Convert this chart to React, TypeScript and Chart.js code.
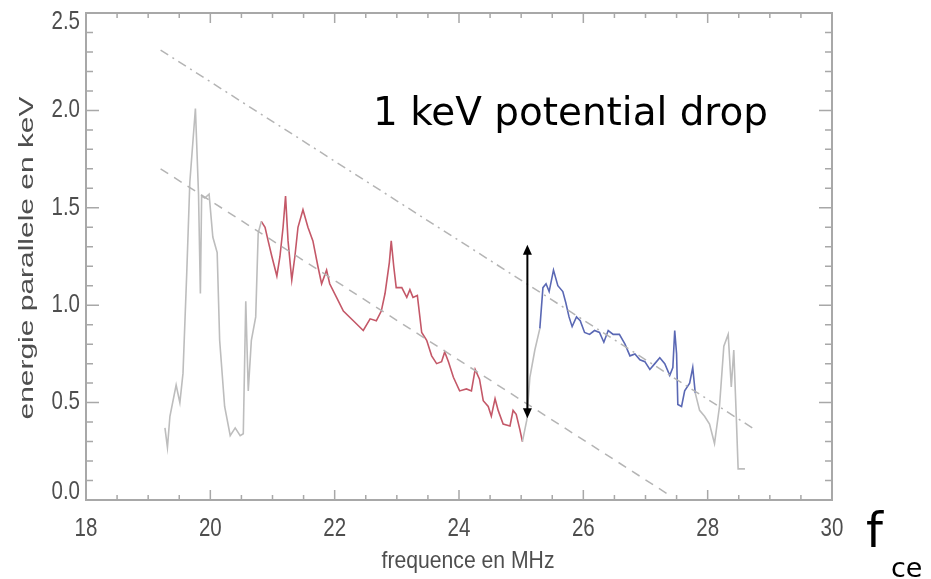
import React, { useEffect, useRef } from 'react';
import { Chart, registerables } from 'chart.js';

Chart.register(...registerables);

// ---- data (frequency in MHz, parallel energy in keV) ----
const grayAFreq = [19.27, 19.31, 19.35, 19.45, 19.51, 19.56, 19.62, 19.67, 19.76, 19.81, 19.84, 19.86, 19.91, 19.98, 20.04, 20.11, 20.15, 20.23, 20.32, 20.40, 20.48, 20.53, 20.57, 20.61, 20.66, 20.73, 20.77, 20.82];
const grayAEnergy = [0.37, 0.27, 0.43, 0.59, 0.50, 0.65, 1.16, 1.63, 2.01, 1.57, 1.06, 1.56, 1.55, 1.57, 1.35, 1.27, 0.82, 0.48, 0.33, 0.37, 0.33, 0.34, 1.02, 0.56, 0.82, 0.94, 1.37, 1.43];

const redFreq = [20.82, 20.88, 20.93, 20.99, 21.07, 21.12, 21.17, 21.21, 21.25, 21.31, 21.36, 21.41, 21.49, 21.57, 21.65, 21.73, 21.79, 21.87, 21.92, 22.03, 22.14, 22.30, 22.46, 22.57, 22.67, 22.75, 22.81, 22.88, 22.91, 22.95, 22.99, 23.08, 23.16, 23.21, 23.26, 23.33, 23.40, 23.48, 23.56, 23.64, 23.72, 23.77, 23.83, 23.91, 24.01, 24.12, 24.20, 24.26, 24.33, 24.39, 24.47, 24.52, 24.58, 24.63, 24.71, 24.82, 24.87, 24.92, 24.98, 25.02];
const redEnergy = [1.43, 1.40, 1.33, 1.25, 1.15, 1.25, 1.40, 1.56, 1.33, 1.13, 1.25, 1.40, 1.49, 1.40, 1.33, 1.20, 1.11, 1.18, 1.11, 1.04, 0.97, 0.92, 0.87, 0.93, 0.92, 0.97, 1.06, 1.22, 1.33, 1.20, 1.09, 1.09, 1.04, 1.08, 1.04, 1.05, 0.86, 0.82, 0.74, 0.70, 0.71, 0.76, 0.71, 0.63, 0.56, 0.57, 0.56, 0.67, 0.62, 0.51, 0.48, 0.43, 0.52, 0.46, 0.39, 0.38, 0.46, 0.44, 0.36, 0.30];

const grayBFreq = [25.02, 25.09, 25.14, 25.22, 25.30];
const grayBEnergy = [0.30, 0.41, 0.63, 0.77, 0.88];

const blueFreq = [25.30, 25.35, 25.40, 25.45, 25.52, 25.59, 25.67, 25.72, 25.77, 25.82, 25.89, 25.95, 26.02, 26.10, 26.18, 26.26, 26.33, 26.40, 26.48, 26.58, 26.67, 26.75, 26.83, 26.91, 26.99, 27.07, 27.15, 27.23, 27.31, 27.39, 27.44, 27.47, 27.50, 27.52, 27.58, 27.63, 27.71, 27.76, 27.80];
const blueEnergy = [0.88, 1.09, 1.11, 1.07, 1.18, 1.10, 1.07, 1.01, 0.94, 0.89, 0.94, 0.92, 0.86, 0.85, 0.87, 0.86, 0.81, 0.87, 0.85, 0.85, 0.80, 0.74, 0.75, 0.72, 0.71, 0.67, 0.70, 0.73, 0.70, 0.64, 0.68, 0.87, 0.75, 0.49, 0.48, 0.56, 0.60, 0.68, 0.55];

const grayCFreq = [27.80, 27.87, 27.95, 28.03, 28.11, 28.19, 28.26, 28.33, 28.38, 28.42, 28.46, 28.49, 28.60];
const grayCEnergy = [0.55, 0.46, 0.43, 0.39, 0.29, 0.48, 0.79, 0.85, 0.58, 0.77, 0.43, 0.16, 0.16];

// reference lines
const upperLineFreq = [19.2, 28.72];
const upperLineEnergy = [2.31, 0.37];
const lowerLineFreq = [19.2, 27.36];
const lowerLineEnergy = [1.70, 0.03];

// "1 keV" arrow
const arrowFreq = 25.1;
const arrowEnergyTop = 1.31;
const arrowEnergyBottom = 0.42;

// axes
const xMin = 18, xMax = 30, xStep = 2, xMinorStep = 0.5;
const yMin = 0, yMax = 2.5, yStep = 0.5, yMinorStep = 0.1;

const xTitle = 'frequence en MHz';
const yTitle = 'energie parallele en keV';
const annotationText = '1 keV potential drop';
const fText = 'f';
const fSub = 'ce';

const pts = (xs: number[], ys: number[]) => xs.map((x, i) => ({ x, y: ys[i] }));

const SANS = "'Liberation Sans', Arial, sans-serif";
const GRAY = '#bdbdbd';
const RED = '#c45868';
const BLUE = '#5a68b4';
const AXIS = '#a8a8a8';
const LABEL = '#4e4e4e';

const decorPlugin = {
  id: 'decor',
  afterDraw(chart: any) {
    const ctx = chart.ctx as CanvasRenderingContext2D;
    const xs = chart.scales.x;
    const ys = chart.scales.y;
    const { left, right, top, bottom } = chart.chartArea;
    ctx.save();
    // frame
    ctx.strokeStyle = AXIS;
    ctx.lineWidth = 2;
    ctx.strokeRect(left, top, right - left, bottom - top);
    // ticks (inward, mirrored)
    ctx.lineWidth = 1.5;
    ctx.beginPath();
    for (let v = xMin; v <= xMax + 1e-9; v += xMinorStep) {
      const px = xs.getPixelForValue(v);
      const major = Math.abs(v / xStep - Math.round(v / xStep)) < 1e-6;
      const len = major ? 10 : 5;
      ctx.moveTo(px, bottom); ctx.lineTo(px, bottom - len);
      ctx.moveTo(px, top); ctx.lineTo(px, top + len);
    }
    for (let v = yMin; v <= yMax + 1e-9; v += yMinorStep) {
      const py = ys.getPixelForValue(v);
      const major = Math.abs(v / yStep - Math.round(v / yStep)) < 1e-6;
      const len = major ? 13 : 7;
      ctx.moveTo(left, py); ctx.lineTo(left + len, py);
      ctx.moveTo(right, py); ctx.lineTo(right - len, py);
    }
    ctx.stroke();

    // tick labels (condensed look)
    ctx.fillStyle = LABEL;
    ctx.font = `25px ${SANS}`;
    ctx.textBaseline = 'middle';
    for (const t of ys.ticks) {
      const py = ys.getPixelForValue(t.value);
      const cy = Math.min(Math.max(py, top + 9), bottom - 8);
      ctx.save();
      ctx.translate(left - 6, cy);
      ctx.scale(0.82, 1);
      ctx.textAlign = 'right';
      ctx.fillText(Number(t.value).toFixed(1), 0, 0);
      ctx.restore();
    }
    for (const t of xs.ticks) {
      const px = xs.getPixelForValue(t.value);
      ctx.save();
      ctx.translate(px, bottom + 29);
      ctx.scale(0.82, 1);
      ctx.textAlign = 'center';
      ctx.fillText(String(t.value), 0, 0);
      ctx.restore();
    }

    // x title
    ctx.save();
    ctx.font = `24px ${SANS}`;
    const wx = ctx.measureText(xTitle).width;
    ctx.translate(468, 561);
    ctx.scale(173 / wx, 1);
    ctx.textAlign = 'center';
    ctx.textBaseline = 'middle';
    ctx.fillText(xTitle, 0, 0);
    ctx.restore();

    // y title (rotated)
    ctx.save();
    ctx.translate(27, 258);
    ctx.rotate(-Math.PI / 2);
    ctx.font = `20px ${SANS}`;
    const wy = ctx.measureText(yTitle).width;
    ctx.scale(323 / wy, 1);
    ctx.textAlign = 'center';
    ctx.textBaseline = 'middle';
    ctx.fillText(yTitle, 0, 0);
    ctx.restore();

    // annotation text
    ctx.fillStyle = '#000';
    ctx.textAlign = 'left';
    ctx.textBaseline = 'alphabetic';
    ctx.font = "39px 'DejaVu Sans', sans-serif";
    const wa = ctx.measureText(annotationText).width;
    ctx.save();
    ctx.translate(373, 125);
    ctx.scale(395 / wa, 1);
    ctx.fillText(annotationText, 0, 0);
    ctx.restore();

    // f_ce
    ctx.font = "48px 'DejaVu Sans', sans-serif";
    ctx.fillText(fText, 866, 547);
    ctx.font = "27px 'DejaVu Sans', sans-serif";
    ctx.fillText(fSub, 891, 577);

    // double arrow
    const ax = xs.getPixelForValue(arrowFreq);
    const ayTop = ys.getPixelForValue(arrowEnergyTop);
    const ayBot = ys.getPixelForValue(arrowEnergyBottom);
    ctx.strokeStyle = '#000';
    ctx.lineWidth = 2;
    ctx.beginPath();
    ctx.moveTo(ax, ayTop + 8);
    ctx.lineTo(ax, ayBot - 8);
    ctx.stroke();
    ctx.fillStyle = '#000';
    ctx.beginPath();
    ctx.moveTo(ax, ayTop); ctx.lineTo(ax - 4.5, ayTop + 10); ctx.lineTo(ax + 4.5, ayTop + 10); ctx.closePath();
    ctx.fill();
    ctx.beginPath();
    ctx.moveTo(ax, ayBot); ctx.lineTo(ax - 4.5, ayBot - 10); ctx.lineTo(ax + 4.5, ayBot - 10); ctx.closePath();
    ctx.fill();
    ctx.restore();
  },
};

export default function App() {
  const ref = useRef<HTMLCanvasElement | null>(null);
  useEffect(() => {
    if (!ref.current) return;
    const line = (data: any, color: string, extra: any = {}) => ({
      data,
      borderColor: color,
      backgroundColor: color,
      borderWidth: 1.6,
      pointRadius: 0,
      showLine: true,
      tension: 0,
      fill: false,
      ...extra,
    });
    const chart = new Chart(ref.current, {
      type: 'scatter',
      data: {
        datasets: [
          line(pts(upperLineFreq, upperLineEnergy), '#b4b4b4', { borderWidth: 1.5, borderDash: [9, 5, 2, 5] }),
          line(pts(lowerLineFreq, lowerLineEnergy), '#b4b4b4', { borderWidth: 1.5, borderDash: [9, 7] }),
          line(pts(grayAFreq, grayAEnergy), GRAY),
          line(pts(grayBFreq, grayBEnergy), GRAY),
          line(pts(grayCFreq, grayCEnergy), GRAY),
          line(pts(redFreq, redEnergy), RED),
          line(pts(blueFreq, blueEnergy), BLUE),
        ],
      },
      options: {
        animation: false,
        responsive: false,
        maintainAspectRatio: false,
        layout: { padding: { left: 0, top: 13, right: 99, bottom: 0 } },
        plugins: { legend: { display: false }, tooltip: { enabled: false }, title: { display: false } },
        scales: {
          x: {
            type: 'linear',
            position: 'bottom',
            min: xMin,
            max: xMax,
            grid: { display: false, drawTicks: false },
            border: { display: false },
            ticks: { stepSize: xStep, autoSkip: false, maxRotation: 0, display: false },
            afterFit: (s: any) => { s.height = 79; },
          },
          y: {
            type: 'linear',
            min: yMin,
            max: yMax,
            grid: { display: false, drawTicks: false },
            border: { display: false },
            ticks: { stepSize: yStep, autoSkip: false, display: false },
            afterFit: (s: any) => { s.width = 86; },
          },
        },
      },
      plugins: [decorPlugin],
    });
    return () => chart.destroy();
  }, []);
  return (
    <div style={{ position: 'fixed', left: 0, top: 0, width: 931, height: 579, background: '#fff' }}>
      <canvas ref={ref} width={931} height={579} style={{ width: 931, height: 579, display: 'block' }} />
    </div>
  );
}
